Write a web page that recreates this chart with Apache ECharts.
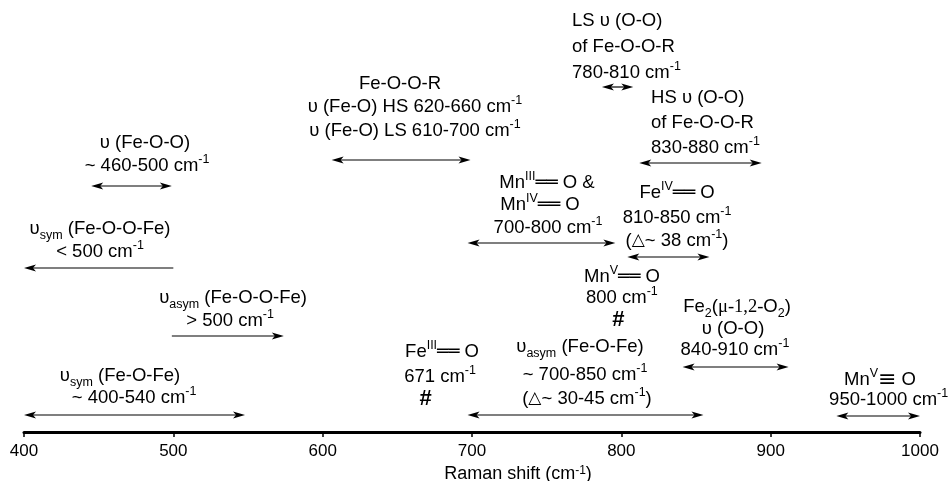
<!DOCTYPE html>
<html><head><meta charset="utf-8">
<script src="https://cdn.jsdelivr.net/npm/echarts@6/dist/echarts.min.js"></script>
<style>html,body{margin:0;padding:0;background:#fff}#c{width:949px;height:481px}</style>
</head><body><div id="c"></div>
<script>
// ---- data (cm-1) ----
const xTicks = [400, 500, 600, 700, 800, 900, 1000];
const bandNames = ['vsym Fe-O-Fe', 'vasym Fe-O-O-Fe', 'vsym Fe-O-O-Fe', 'v Fe-O-O', 'Fe-O-O-R v(Fe-O)', 'LS v(O-O)', 'HS v(O-O)', 'MnIII/IV=O', 'FeIV=O', 'Fe2 v(O-O)', 'MnV=O (950-1000)', 'vasym Fe-O-Fe'];
const bandStart = [400, 499, 400, 445, 606, 787, 812, 697, 804, 841, 944, 697];
const bandEnd   = [548, 574, 500, 499, 699, 808, 894, 796, 859, 912, 1000, 855];
const bandHeads = ['both', 'end', 'start', 'both', 'both', 'both', 'both', 'both', 'both', 'both', 'both', 'both'];
const markerX = [671, 800];

// ---- layout (vertical rows in px from top, label anchors) ----
const bandRow = [415, 336, 268, 186, 160, 87, 163, 243, 257, 367, 416, 415];
const markerRow = [399, 320];
const labels = [
  [481, 143, 'center', '{n|υ (Fe-O-O)}'],
  [482.4, 166, 'center', '{n|~ 460-500 cm}{sup|-1}'],
  [450.9, 229, 'center', '{n|υ}{sub|sym}{n| (Fe-O-O-Fe)}'],
  [450.9, 252, 'center', '{n|< 500 cm}{sup|-1}'],
  [540, 298, 'center', '{n|υ}{sub|asym}{n| (Fe-O-O-Fe)}'],
  [538, 321, 'center', '{n|> 500 cm}{sup|-1}'],
  [464.3, 376, 'center', '{n|υ}{sub|sym}{n| (Fe-O-Fe)}'],
  [473.7, 398, 'center', '{n|~ 400-540 cm}{sup|-1}'],
  [651.8, 84, 'center', '{n|Fe-O-O-R}'],
  [661.8, 107, 'center', '{n|υ (Fe-O) HS 620-660 cm}{sup|-1}'],
  [661.8, 131, 'center', '{n|υ (Fe-O) LS 610-700 cm}{sup|-1}'],
  [767, 21, 'left', '{n|LS υ (O-O)}'],
  [767, 47, 'left', '{n|of Fe-O-O-R}'],
  [767, 73, 'left', '{n|780-810 cm}{sup|-1}'],
  [819.9, 98, 'left', '{n|HS υ (O-O)}'],
  [819.9, 123, 'left', '{n|of Fe-O-O-R}'],
  [819.9, 148, 'left', '{n|830-880 cm}{sup|-1}'],
  [750.2, 183, 'center', '{n|Mn}{sup|III}{bd|══}{n| O &}'],
  [745.5, 205, 'center', '{n|Mn}{sup|IV}{bd|══}{n| O}'],
  [750.9, 228, 'center', '{n|700-800 cm}{sup|-1}'],
  [837.3, 193, 'center', '{n|Fe}{sup|IV}{bd|══}{n| O}'],
  [837.3, 218, 'center', '{n|810-850 cm}{sup|-1}'],
  [837.3, 241, 'center', '{n|(}{tri|△}{n|~ 38 cm}{sup|-1}{n|)}'],
  [800.4, 277, 'center', '{n|Mn}{sup|V}{bd|══}{n| O}'],
  [800.4, 298, 'center', '{n|800 cm}{sup|-1}'],
  [877.5, 307, 'center', '{n|Fe}{sub|2}{n|(}{sf|μ-1,2-}{n|O}{sub|2}{n|)}'],
  [874.8, 329, 'center', '{n|υ (O-O)}'],
  [876.1, 350, 'center', '{n|840-910 cm}{sup|-1}'],
  [679.9, 352, 'center', '{n|Fe}{sup|III}{bd|══}{n| O}'],
  [678.6, 377, 'center', '{n|671 cm}{sup|-1}'],
  [772.3, 347, 'center', '{n|υ}{sub|asym}{n| (Fe-O-Fe)}'],
  [775.7, 375, 'center', '{n|~ 700-850 cm}{sup|-1}'],
  [777, 399, 'center', '{n|(}{tri|△}{n|~ 30-45 cm}{sup|-1}{n|)}'],
  [973.2, 380, 'center', '{n|Mn}{sup|V}{tb|≡}{n| O}'],
  [979, 400, 'center', '{n|950-1000 cm}{sup|-1}']
];

const FONT = 'Liberation Sans, Arial, sans-serif';
const FS = 18.5;
const rich = {
  n:   {fontSize: FS, fontFamily: FONT, lineHeight: 26, verticalAlign: 'middle', fill: '#000'},
  sup: {fontSize: 12.5, fontFamily: FONT, lineHeight: 19, verticalAlign: 'top', fill: '#000'},
  sub: {fontSize: 12.5, fontFamily: FONT, lineHeight: 15, verticalAlign: 'bottom', fill: '#000'},
  bd:  {fontSize: FS, fontFamily: 'DejaVu Sans', lineHeight: 26, verticalAlign: 'middle', fill: '#000'},
  tb:  {fontSize: 22, fontFamily: 'DejaVu Sans', lineHeight: 26, verticalAlign: 'middle', fill: '#000'},
  tri: {fontSize: 17, fontFamily: 'DejaVu Sans', lineHeight: 26, verticalAlign: 'middle', fill: '#000'},
  sf:  {fontSize: FS, fontFamily: 'Liberation Serif, serif', lineHeight: 26, verticalAlign: 'middle', fill: '#000'}
};

const bandData = bandStart.map((s, i) => [s, bandEnd[i], bandRow[i]]);
const labelData = labels.map(l => [l[0], l[1]]);
const markerData = markerX.map((x, i) => [x, markerRow[i]]);

function head(tip, dir) {
  const L = 12, W = 3.6, N = 9;
  return {
    type: 'polygon',
    shape: {points: [[tip[0], tip[1]], [tip[0] - dir * L, tip[1] - W], [tip[0] - dir * N, tip[1]], [tip[0] - dir * L, tip[1] + W]]},
    style: {fill: '#000'}
  };
}

const chart = echarts.init(document.getElementById('c'), null, {renderer: 'canvas'});
chart.setOption({
  animation: false,
  backgroundColor: '#fff',
  grid: {left: 24, right: 29, top: 0, bottom: 49, containLabel: false, outerBoundsMode: 'none'},
  xAxis: {
    type: 'value', min: xTicks[0], max: xTicks[xTicks.length - 1], interval: 100,
    position: 'bottom',
    splitLine: {show: false},
    axisLine: {show: true, onZero: false, lineStyle: {color: '#000', width: 3}},
    axisTick: {show: true, length: 5, lineStyle: {color: '#000', width: 1.5}},
    axisLabel: {color: '#000', fontSize: 17, fontFamily: FONT, margin: 11, formatter: v => String(v)},
    name: 'Raman shift (cm{sup|-1})',
    nameLocation: 'middle', nameGap: 23,
    nameTextStyle: {color: '#000', fontSize: 18, fontFamily: FONT, padding: [0, 0, 0, 92],
      rich: {sup: {fontSize: 12, fontFamily: FONT, verticalAlign: 'top', lineHeight: 16}}}
  },
  yAxis: {type: 'value', min: 0, max: 432, inverse: true, show: false},
  series: [
    {
      type: 'custom', name: 'bands', data: bandData, clip: false,
      renderItem: function (params, api) {
        const i = params.dataIndex;
        const a = api.coord([api.value(0), api.value(2)]);
        const b = api.coord([api.value(1), api.value(2)]);
        const h = bandHeads[i];
        const children = [{
          type: 'line',
          shape: {x1: a[0] + (h !== 'end' ? 6 : 0), y1: a[1], x2: b[0] - (h !== 'start' ? 6 : 0), y2: b[1]},
          style: {stroke: '#000', lineWidth: 1.2}
        }];
        if (h === 'both' || h === 'start') children.push(head(a, -1));
        if (h === 'both' || h === 'end') children.push(head(b, 1));
        return {type: 'group', children: children};
      }
    },
    {
      type: 'custom', name: 'labels', data: labelData, clip: false,
      renderItem: function (params, api) {
        const l = labels[params.dataIndex];
        const p = api.coord([api.value(0), api.value(1)]);
        return {
          type: 'text', x: p[0], y: p[1],
          style: {text: l[3], rich: rich, align: l[2], verticalAlign: 'middle', fill: '#000', fontSize: FS, fontFamily: FONT}
        };
      }
    },
    {
      type: 'custom', name: 'markers', data: markerData, clip: false,
      renderItem: function (params, api) {
        const p = api.coord([api.value(0), api.value(1)]);
        return {
          type: 'text', x: p[0] - 3, y: p[1],
          style: {text: '#', align: 'center', verticalAlign: 'middle', fill: '#000', fontSize: 22, fontWeight: 'bold', fontFamily: FONT}
        };
      }
    }
  ]
});
</script>
</body></html>
